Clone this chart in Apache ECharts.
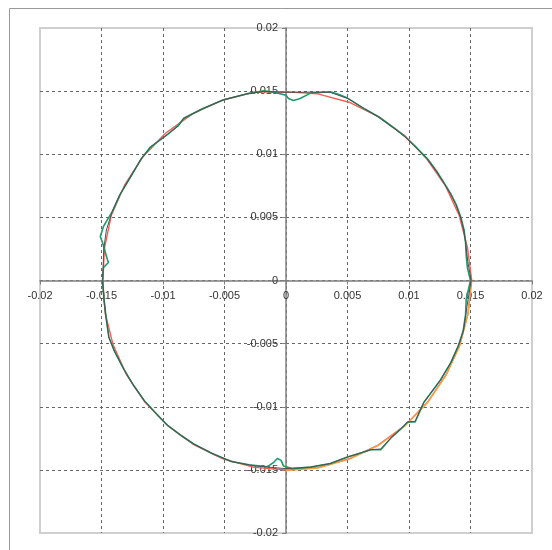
<!DOCTYPE html>
<html>
<head>
<meta charset="utf-8">
<script src="https://cdn.jsdelivr.net/npm/echarts@6/dist/echarts.min.js"></script>
<style>
html,body{margin:0;padding:0;background:#fff;}
#c{width:552px;height:550px;}
</style>
</head>
<body>
<div id="c"></div>
<script>
// Tick values / labels (both axes)
const tickValues = [-0.02, -0.015, -0.01, -0.005, 0, 0.005, 0.01, 0.015, 0.02];
const tickLabels = ['-0.02', '-0.015', '-0.01', '-0.005', '0', '0.005', '0.01', '0.015', '0.02'];

// Green trace
const greenX = [0.01500,0.01475,0.01465,0.01460,0.01448,0.01420,0.01385,0.01338,0.01290,0.01228,0.01152,0.01072,0.00968,0.00872,0.00755,0.00640,0.00500,0.00420,0.00360,0.00280,0.00200,0.00110,0.00060,0.00020,0.00000,-0.00100,-0.00180,-0.00320,-0.00506,-0.00680,-0.00831,-0.00880,-0.00960,-0.01102,-0.01180,-0.01264,-0.01350,-0.01410,-0.01484,-0.01510,-0.01492,-0.01452,-0.01444,-0.01484,-0.01492,-0.01480,-0.01462,-0.01440,-0.01395,-0.01320,-0.01240,-0.01150,-0.01050,-0.00960,-0.00850,-0.00750,-0.00600,-0.00445,-0.00300,-0.00150,-0.00100,-0.00070,-0.00040,-0.00020,0.00050,0.00200,0.00360,0.00500,0.00620,0.00690,0.00770,0.00860,0.00930,0.00988,0.01050,0.01120,0.01256,0.01340,0.01400,0.01440,0.01460,0.01465,0.01500];
const greenY = [0.00000,0.00100,0.00200,0.00300,0.00400,0.00505,0.00600,0.00690,0.00765,0.00862,0.00962,0.01042,0.01140,0.01212,0.01295,0.01358,0.01445,0.01478,0.01495,0.01490,0.01484,0.01440,0.01425,0.01442,0.01468,0.01492,0.01502,0.01478,0.01432,0.01360,0.01285,0.01225,0.01160,0.01057,0.00960,0.00820,0.00680,0.00550,0.00428,0.00349,0.00301,0.00166,0.00143,0.00103,0.00000,-0.00150,-0.00300,-0.00450,-0.00560,-0.00700,-0.00830,-0.00955,-0.01060,-0.01150,-0.01230,-0.01295,-0.01370,-0.01434,-0.01460,-0.01475,-0.01440,-0.01410,-0.01425,-0.01470,-0.01490,-0.01478,-0.01450,-0.01398,-0.01362,-0.01340,-0.01340,-0.01240,-0.01180,-0.01121,-0.01121,-0.00966,-0.00788,-0.00650,-0.00520,-0.00400,-0.00270,-0.00150,0.00000];

// Dark grey trace
const greyX = [0.01505,0.01478,0.01460,0.01445,0.01418,0.01380,0.01335,0.01288,0.01225,0.01150,0.01070,0.00965,0.00870,0.00752,0.00640,0.00505,0.00360,0.00200,0.00000,-0.00180,-0.00320,-0.00506,-0.00680,-0.00831,-0.00870,-0.00960,-0.01102,-0.01180,-0.01264,-0.01350,-0.01412,-0.01460,-0.01482,-0.01490,-0.01480,-0.01462,-0.01440,-0.01395,-0.01320,-0.01240,-0.01150,-0.01050,-0.00960,-0.00850,-0.00750,-0.00600,-0.00445,-0.00250,0.00000,0.00200,0.00360,0.00500,0.00620,0.00690,0.00770,0.00860,0.00930,0.00988,0.01050,0.01120,0.01256,0.01340,0.01400,0.01442,0.01462,0.01480,0.01505];
const greyY = [0.00000,0.00150,0.00300,0.00400,0.00505,0.00600,0.00690,0.00765,0.00862,0.00962,0.01042,0.01140,0.01212,0.01295,0.01360,0.01440,0.01490,0.01492,0.01490,0.01498,0.01478,0.01432,0.01360,0.01285,0.01228,0.01160,0.01057,0.00960,0.00820,0.00680,0.00550,0.00400,0.00250,0.00000,-0.00150,-0.00300,-0.00450,-0.00560,-0.00700,-0.00830,-0.00955,-0.01060,-0.01150,-0.01230,-0.01295,-0.01370,-0.01434,-0.01470,-0.01490,-0.01478,-0.01450,-0.01398,-0.01362,-0.01340,-0.01335,-0.01240,-0.01180,-0.01121,-0.01115,-0.00966,-0.00788,-0.00650,-0.00520,-0.00400,-0.00270,-0.00150,0.00000];

// Red trace
const redX = [0.01510,0.01475,0.01408,0.01295,0.01145,0.00962,0.00752,0.00512,0.00258,0.00000,-0.00262,-0.00518,-0.00760,-0.00978,-0.01165,-0.01310,-0.01420,-0.01475,-0.01490,-0.01470,-0.01405,-0.01295,-0.01147,-0.00963,-0.00750,-0.00513,-0.00260,0.00000,0.00260,0.00514,0.00752,0.00966,0.01150,0.01300,0.01412,0.01480,0.01510];
const redY = [0.00000,0.00262,0.00515,0.00752,0.00962,0.01150,0.01298,0.01412,0.01478,0.01495,0.01492,0.01428,0.01320,0.01168,0.00978,0.00760,0.00518,0.00260,0.00000,-0.00259,-0.00512,-0.00750,-0.00963,-0.01148,-0.01300,-0.01412,-0.01480,-0.01500,-0.01482,-0.01412,-0.01302,-0.01150,-0.00965,-0.00750,-0.00514,-0.00261,0.00000];

// Orange trace (lower right arc)
const orangeX = [0.00000,0.00260,0.00514,0.00752,0.00966,0.01150,0.01300,0.01412,0.01480,0.01505];
const orangeY = [-0.01505,-0.01485,-0.01415,-0.01305,-0.01152,-0.00967,-0.00752,-0.00516,-0.00262,0.00000];

const pairs = (xs, ys) => xs.map((x, i) => [x, ys[i]]);
const fmt = v => {
  const i = tickValues.findIndex(t => Math.abs(t - v) < 1e-9);
  return i >= 0 ? tickLabels[i] : '';
};

const GRID = {left: 40, top: 28, width: 492, height: 505};

const chart = echarts.init(document.getElementById('c'), null, {renderer: 'canvas'});
const axisCommon = {
  type: 'value', min: -0.02, max: 0.02, interval: 0.005,
  axisLine: {onZero: false, lineStyle: {color: '#808080', width: 1.5}},
  axisTick: {show: true, inside: false, length: 4, lineStyle: {color: '#808080'}},
  splitLine: {show: true, showMinLine: false, showMaxLine: false, lineStyle: {color: '#666', type: [3, 3], width: 1}},
  axisLabel: {formatter: fmt, color: '#333', fontFamily: 'Liberation Sans, Arial, sans-serif', fontSize: 11, showMinLabel: true, showMaxLabel: true}
};
const line = (name, xs, ys, color, w) => ({
  name, type: 'line', data: pairs(xs, ys), showSymbol: false, symbol: 'none',
  lineStyle: {color, width: w}, itemStyle: {color}, animation: false, z: 3
});

chart.setOption({
  animation: false,
  backgroundColor: '#fff',
  graphic: [{type: 'rect', shape: {x: 9.5, y: 8.5, width: 600, height: 600}, style: {fill: 'none', stroke: '#999', lineWidth: 1}, z: -1}],
  grid: Object.assign({show: true, borderColor: '#cfcfcf', borderWidth: 2, backgroundColor: 'transparent'}, GRID),
  xAxis: Object.assign({}, axisCommon, {position: 'bottom', offset: -GRID.height / 2,
    axisLabel: Object.assign({}, axisCommon.axisLabel, {margin: 10})}),
  yAxis: Object.assign({}, axisCommon, {position: 'left', offset: -GRID.width / 2,
    axisLabel: Object.assign({}, axisCommon.axisLabel, {margin: 8})}),
  series: [
    line('red', redX, redY, '#f0605a', 1.4),
    line('orange', orangeX, orangeY, '#f5a040', 1.4),
    line('green', greenX, greenY, '#1f9a6a', 1.6),
    line('grey', greyX, greyY, '#505050', 1.0)
  ]
});
</script>
</body>
</html>
